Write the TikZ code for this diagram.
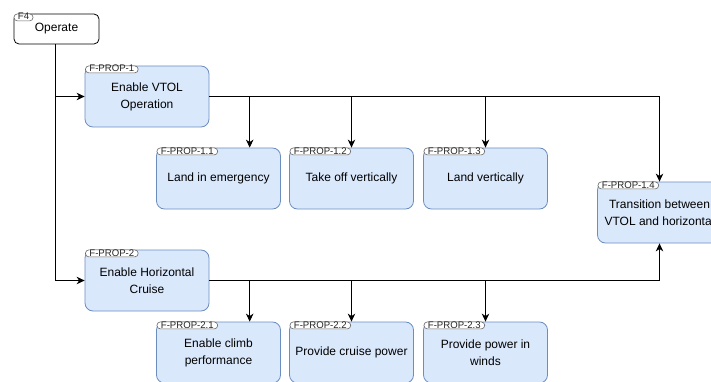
\documentclass[tikz,border=0pt]{standalone}
\usepackage{fontspec}
\setmainfont{Liberation Sans}
\usetikzlibrary{arrows.meta,calc}
\definecolor{boxfill}{HTML}{DAE8FC}
\definecolor{boxline}{HTML}{6C8EBF}
\tikzset{
  fbox/.style={draw=boxline, fill=boxfill, rounded corners=8pt, minimum width=124pt, minimum height=61pt,
    align=center, font=\fontsize{12}{17}\selectfont, inner sep=2pt, line width=0.8pt},
  rootbox/.style={draw=black, fill=white, rounded corners=5pt, minimum width=85pt, minimum height=30pt,
    align=center, font=\fontsize{12}{14}\selectfont, inner sep=2pt, line width=0.8pt},
  tagpill/.style={draw=black!60, fill=white, rounded corners=3.5pt, anchor=north west, inner xsep=4pt, inner ysep=0.3pt,
    text height=5.8pt, text depth=0.6pt, font=\fontsize{9.6}{10}\selectfont, text=black!85, line width=0.6pt},
  conn/.style={draw=black, line width=0.8pt},
  arr/.style={conn, -{Stealth[length=8pt,width=7.5pt,inset=2.5pt]}}
}
\begin{document}
\begin{tikzpicture}[x=1pt,y=-1pt]
\useasboundingbox (0,0) rectangle (711,382);
\clip (0,0) rectangle (711,382);
% nodes
\node[rootbox] (f4) at (56.5,29) {\raisebox{-1pt}{Operate}};
\node[fbox] (p1) at (147,96.5) {Enable VTOL\\Operation};
\node[fbox] (p11) at (218.5,178.5) {\raisebox{-1pt}{Land in emergency}};
\node[fbox] (p12) at (351.5,178.5) {\raisebox{-1pt}{Take off vertically}};
\node[fbox] (p13) at (485.5,178.5) {\raisebox{-1pt}{Land vertically}};
\node[fbox] (p14) at (659.5,212.5) {Transition between\\VTOL and horizontal};
\node[fbox] (p2) at (147,280.5) {Enable Horizontal\\Cruise};
\node[fbox] (p21) at (218.5,352.5) {Enable climb\\performance};
\node[fbox] (p22) at (351.5,352.5) {\raisebox{-1pt}{Provide cruise power}};
\node[fbox] (p23) at (485.5,352.5) {Provide power in\\winds};
% tags
\node[tagpill] (t4) at (f4.north west) {F4};
\node[tagpill] (t1) at ($(p1.north west)+(0.5,0)$) {F-PROP-1};
\node[tagpill] (t11) at ($(p11.north west)+(0.5,0)$) {F-PROP-1.1};
\node[tagpill] (t12) at ($(p12.north west)+(0.5,0)$) {F-PROP-1.2};
\node[tagpill] (t13) at ($(p13.north west)+(0.5,0)$) {F-PROP-1.3};
\node[tagpill] (t14) at ($(p14.north west)+(0.5,0)$) {F-PROP-1.4};
\node[tagpill] (t2) at ($(p2.north west)+(0.5,0)$) {F-PROP-2};
\node[tagpill] (t21) at ($(p21.north west)+(0.5,0)$) {F-PROP-2.1};
\node[tagpill] (t22) at ($(p22.north west)+(0.5,0)$) {F-PROP-2.2};
\node[tagpill] (t23) at ($(p23.north west)+(0.5,0)$) {F-PROP-2.3};
% target points
\coordinate (a11) at ($(p11.north west)!0.75!(p11.north east)$);
\coordinate (a21) at ($(p21.north west)!0.75!(p21.north east)$);
\coordinate (r1) at (p14.north |- p1.east);
\coordinate (r2) at (p14.south |- p2.east);
% connectors
\draw[arr] ($(f4.south)+(-1.5,0)$) |- (p1.west);
\draw[arr] ($(f4.south)+(-1.5,0)$) |- (p2.west);
\draw[conn] (p1.east) -- (r1);
\draw[arr] (r1) -- (p14.north);
\draw[arr] (p1.east -| a11) -- (a11);
\draw[arr] (p1.east -| p12.north) -- (p12.north);
\draw[arr] (p1.east -| p13.north) -- (p13.north);
\draw[conn] (p2.east) -- (r2);
\draw[arr] (r2) -- (p14.south);
\draw[arr] (p2.east -| a21) -- (a21);
\draw[arr] (p2.east -| p22.north) -- (p22.north);
\draw[arr] (p2.east -| p23.north) -- (p23.north);
\end{tikzpicture}
\end{document}
